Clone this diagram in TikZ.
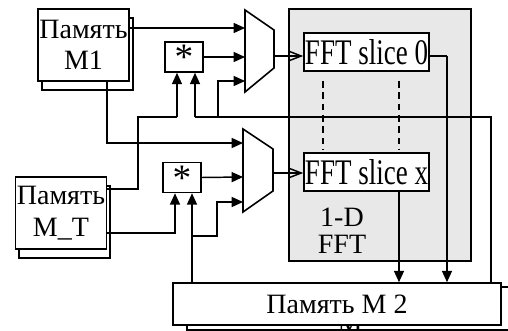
\documentclass[tikz,border=0pt]{standalone}
\usepackage{fontspec}
\setmainfont{Liberation Serif}
\newfontfamily\policeetroite[FakeStretch=0.75]{Liberation Serif}
\usepackage{xcolor}
\usetikzlibrary{arrows.meta, calc}
\definecolor{trait}{HTML}{000000}
\definecolor{fondfft}{HTML}{E8E8E8}
\tikzset{
  bloc/.style={rectangle, draw=trait, fill=white, line width=1.2pt,
    inner sep=0pt, font=\fontsize{21}{23.5}\selectfont},
  memoire/.style={bloc, align=center, minimum width=68.25pt, minimum height=54pt},
  memoirelarge/.style={bloc, minimum width=246pt, minimum height=31.5pt},
  tranche/.style={bloc, font=\policeetroite\fontsize{27}{30}\selectfont,
    minimum width=93.75pt, minimum height=28.5pt},
  mult/.style={bloc, font=\fontsize{28}{28}\selectfont,
    text height=19pt, text depth=-7.8pt,
    minimum width=28.5pt, minimum height=22.5pt},
  panneau/.style={rectangle, draw=trait, fill=fondfft, line width=1.2pt,
    inner sep=0pt, minimum width=136.5pt, minimum height=189pt},
  mux/.style={draw=trait, fill=white, line width=1.2pt, line join=miter},
  fleche/.style={-{Triangle[length=8.5pt, width=7.5pt]}, line width=1.1pt, color=trait},
  flecheouverte/.style={-{Straight Barb[length=9pt, width=7pt]}, line width=1.1pt, color=trait},
  lien/.style={line width=1.1pt, color=trait},
  pointilles/.style={dashed, dash pattern=on 5pt off 3.5pt, line width=1.1pt, color=trait},
  etiquette/.style={font=\fontsize{21}{20}\selectfont, align=center}
}

\begin{document}
\begin{tikzpicture}[x=0.75pt, y=-0.75pt]
  \useasboundingbox (0,0) rectangle (508,331);

  % bloc FFT
  \node[panneau] (fft) at (380,135) {};
  \node[etiquette] (fftnom) at (342,231) {1-D\\FFT};
  \node[tranche] (slice0) at (366.5,52) {FFT slice 0};
  \node[tranche] (slicex) at (366.5,172) {FFT slice x};
  \coordinate (d1) at (323,0);
  \coordinate (d2) at (399,0);
  \draw[pointilles, shorten <=7pt, shorten >=2pt] (slice0.south -| d1) -- (slicex.north -| d1);
  \draw[pointilles, shorten <=7pt, shorten >=2pt] (slice0.south -| d2) -- (slicex.north -| d2);

  % memoires
  \node[memoire] (m1ombre) at (87.5,54) {};
  \node[memoire] (m1) at (83.5,45) {Память\\M1};
  \node[memoire] (mtombre) at (64.5,222) {};
  \node[memoire] (mt) at (61,213) {Память\\M\_T};
  \node[memoirelarge, minimum height=32.25pt] (m2ombre) at (351,308.5) {};
  \node[font=\fontsize{21}{23.5}\selectfont, anchor=base, inner sep=0pt] (m2ombretxt) at (350,333) {M};
  \node[memoirelarge] (m2) at (337,304) {Память M 2};

  % multiplieurs
  \node[mult] (mul1) at (184,57) {*};
  \node[mult] (mul2) at (182,177.5) {*};

  % multiplexeurs
  \draw[mux] (245,10) -- (274,30) -- (274,68) -- (245,92) -- cycle;
  \draw[mux] (243,129) -- (273,149) -- (273,191) -- (243,212) -- cycle;
  \coordinate (mux1e1) at (245,28);
  \coordinate (mux1e2) at (245,57);
  \coordinate (mux1e3) at (245,81);
  \coordinate (mux1s) at (274,56);
  \coordinate (mux2e1) at (243,143);
  \coordinate (mux2e2) at (243,177);
  \coordinate (mux2e3) at (243,202);
  \coordinate (mux2s) at (273,173);

  % points de jonction
  \coordinate (bus0) at (491,117);
  \coordinate (b1) at (218,117);
  \coordinate (b2) at (195,117);
  \coordinate (t1) at (138,189);
  \coordinate (t2) at (138,117);
  \coordinate (t3) at (177,117);
  \coordinate (t4) at (175,233);
  \coordinate (r1) at (192,236);
  \coordinate (r2) at (217,236);
  \coordinate (c1) at (107,143);
  \coordinate (s0) at (447,56);

  \draw[fleche] (m1.east |- mux1e1) -- (mux1e1);
  \draw[fleche] (mul1.east) -- (mux1e2);
  \draw[lien] (m2.north -| bus0) -- (bus0) -- (b2);
  \draw[fleche] (b1) |- (mux1e3);
  \draw[fleche] (b2) -- (mul1.south -| b2);
  \draw[lien] (mt.east |- t1) -- (t1) -- (t2) -- (t3);
  \draw[fleche] (t3) -- (mul1.south -| t3);
  \draw[fleche] (mt.east |- t4) -- (t4) -- (mul2.south -| t4);
  \draw[fleche] (m2.north -| r1) -- (mul2.south -| r1);
  \draw[fleche] (r1) -- (r2) |- (mux2e3);
  \draw[fleche] (m1.south -| c1) |- (mux2e1);
  \draw[fleche] (mul2.east) -- (mux2e2);
  \draw[flecheouverte] (mux1s) -- (slice0.west |- mux1s);
  \draw[flecheouverte] (mux2s) -- (slicex.west |- mux2s);
  \draw[lien] (slice0.east |- s0) -- (s0);
  \draw[fleche] (s0) -- (m2.north -| s0);
  \draw[fleche] (slicex.south -| d2) -- (m2.north -| d2);
\end{tikzpicture}
\end{document}
